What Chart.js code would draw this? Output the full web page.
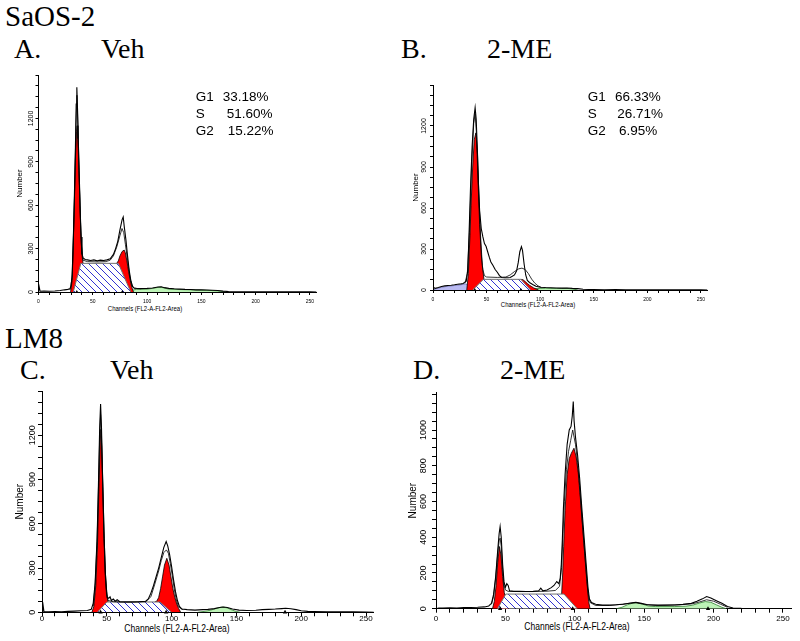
<!DOCTYPE html>
<html>
<head>
<meta charset="utf-8">
<script src="https://cdn.jsdelivr.net/npm/chart.js@4.4.0/dist/chart.umd.min.js"></script>
<style>
  body { margin: 0; background: #fff; width: 800px; height: 641px; position: relative; overflow: hidden; }
  .t { position: absolute; font-family: "Liberation Serif", "Times New Roman", serif; line-height: 1; white-space: nowrap; color: #000; }
  .s { position: absolute; font-family: "Liberation Sans", Arial, sans-serif; font-size: 13.5px; line-height: 1; white-space: nowrap; color: #000; }
  .ax { position: absolute; font-family: "Liberation Sans", Arial, sans-serif; line-height: 1; white-space: nowrap; color: #000; }
  canvas { position: absolute; }
</style>
</head>
<body>
<div class="t" style="left:5px; top:1.7px; font-size:29px">SaOS-2</div>
<div class="t" style="left:14px; top:35px; font-size:28px">A.</div>
<div class="t" style="left:101px; top:35px; font-size:28px">Veh</div>
<div class="t" style="left:401px; top:35px; font-size:28px">B.</div>
<div class="t" style="left:487px; top:35px; font-size:28px">2-ME</div>
<div class="t" style="left:5px; top:323.7px; font-size:29px">LM8</div>
<div class="t" style="left:20px; top:356px; font-size:28px">C.</div>
<div class="t" style="left:110px; top:356px; font-size:28px">Veh</div>
<div class="t" style="left:413px; top:356px; font-size:28px">D.</div>
<div class="t" style="left:500px; top:356px; font-size:28px">2-ME</div>

<div class="ax" style="left:145px; top:309px; font-size:6px; transform:translate(-50%,-50%) scaleY(1.2)">Channels (FL2-A-FL2-Area)</div>
<div class="ax" style="left:538px; top:305px; font-size:6px; transform:translate(-50%,-50%) scaleY(1.2)">Channels (FL2-A-FL2-Area)</div>
<div class="ax" style="left:177px; top:629px; font-size:8.5px; transform:translate(-50%,-50%) scaleY(1.25)">Channels (FL2-A-FL2-Area)</div>
<div class="ax" style="left:577px; top:627px; font-size:8.5px; transform:translate(-50%,-50%) scaleY(1.25)">Channels (FL2-A-FL2-Area)</div>

<canvas id="cA"></canvas>
<canvas id="cB"></canvas>
<canvas id="cC"></canvas>
<canvas id="cD"></canvas>

<script>
// cell cycle results printed on the top panels
const aPhase = ['G1', 'S', 'G2'];
const aPctA = ['33.18%', '51.60%', '15.22%'];
const aPctB = ['66.33%', '26.71%', '6.95%'];

// [channel, count] pairs
// A. SaOS-2 Veh
const aRaw = [[0,0],[0.5,40],[1.5,5],[5,6],[10,5],[15,7],[20,10],[24,15],[27,18],[29,22],[30,40],[31,120],[32,350],[33,650],[34,1000],[34.7,1300],[35.3,1415],[36,1250],[37,950],[38,680],[39,420],[40,270],[41,235],[43,225],[45,222],[48,218],[51,222],[54,215],[57,220],[60,218],[63,222],[66,230],[69,260],[71,300],[73,350],[75,430],[77,500],[78,519],[79,450],[80.5,360],[82,250],[83.5,150],[85,80],[86.7,37],[88,28],[90,26],[95,24],[100,25],[105,28],[110,35],[113,36],[116,30],[120,25],[125,22],[130,20],[135,18],[140,17],[145,15],[150,16],[155,14],[160,12],[165,10],[170,6],[175,3],[180,2],[190,1],[200,2],[210,1],[220,2],[230,1],[240,2],[250,1],[256,0]];
const aFit = [[29,15],[31,100],[33,600],[34.5,1150],[35.4,1360],[36.3,1150],[37.5,800],[38.5,520],[39.5,320],[41,220],[45,210],[55,208],[62,210],[66,220],[69,250],[72,310],[75,390],[76.9,439],[78.5,410],[80,330],[82,220],[84,110],[86,45],[88,26],[95,22]];
const aG1 = [[29.5,0],[31,80],[32,320],[33,620],[34,920],[35,1110],[35.6,1150],[36.3,1060],[37.2,850],[38.2,600],[39.2,380],[40,260],[41,200],[42,150],[44,0]];
const aS = [[32,0],[39,198],[73.5,198],[85,0]];
const aG2 = [[72,198],[73.5,215],[75,250],[77,280],[78.9,290],[80,270],[81.5,210],[83,140],[84.5,80],[86,30],[87.5,0]];
const aAgg = [[84,0],[86,12],[90,18],[95,18],[100,20],[105,25],[110,32],[113,33],[116,27],[120,20],[130,17],[140,15],[150,13],[160,10],[165,8],[172,0]];
const aMarks = [35.3, 77.2];

// B. SaOS-2 2-ME
const bRaw = [[0,0],[0.5,20],[2,12],[5,18],[8,25],[11,30],[14,33],[17,35],[20,38],[23,42],[26,45],[28,48],[29.5,55],[31,65],[32.5,150],[34,500],[35,750],[36.5,1050],[38,1250],[39.3,1334],[40.3,1250],[41.5,1000],[42.5,760],[43.5,580],[45,450],[46.5,390],[48,340],[49.5,320],[51,280],[52.5,240],[54,205],[56,180],[58,150],[60,130],[62,105],[64,92],[67,90],[70,90],[72,92],[74,100],[76,110],[78,140],[79.5,200],[81,280],[82.5,317],[83.5,290],[85,190],[86.5,110],[88,70],[90,55],[93,40],[96,28],[100,20],[105,18],[110,17],[115,15],[120,14],[125,15],[130,12],[135,10],[140,6],[145,4],[150,3],[160,2],[170,3],[180,2],[190,2],[200,1],[210,2],[220,1],[230,2],[240,1],[250,1],[256,0]];
const bFit = [[30,55],[32,120],[34,420],[36,900],[38,1220],[39.3,1290],[40.5,1150],[42,800],[43.5,480],[45,260],[46.5,150],[48,105],[50,95],[60,92],[68,95],[72,110],[76,135],[80,155],[83,160],[86,150],[89,120],[92,80],[95,50],[98,30],[101,20]];
const bG1 = [[31.5,0],[33,120],[34.5,400],[35.5,620],[37,900],[38.5,1100],[40,1150],[41.5,1000],[43,650],[44.5,380],[46,180],[47.5,80],[49,20],[50,0]];
const bS = [[37,0],[47,78],[82,78],[91,0]];
const bG2 = [[82,78],[84,75],[86,62],[88,48],[90,35],[92,25],[94,15],[96,8],[98.5,0]];
const bDebris = [[0.5,0],[2,8],[5,14],[8,20],[11,24],[14,28],[17,30],[20,33],[23,36],[26,38],[28,42],[30,45],[32,40],[34,20],[36,0]];
const bAgg = [[92,0],[95,10],[100,12],[105,13],[110,12],[115,12],[120,11],[125,12],[130,8],[135,0]];
const bMarks = [39, 82];

// C. LM8 Veh
const cRaw = [[0,0],[0.5,70],[1.5,5],[5,4],[10,5],[15,4],[20,6],[25,8],[30,10],[35,12],[38,20],[39.5,60],[41,200],[42.5,500],[43.5,850],[44.5,1250],[45.2,1411],[45.9,1250],[46.8,900],[47.8,550],[48.8,280],[49.8,150],[50.5,100],[51.5,95],[52.5,105],[53.5,80],[55,90],[56.5,75],[58,85],[60,72],[65,70],[70,70],[75,72],[80,75],[82,90],[84,130],[86,180],[88,240],[90,300],[92,370],[94,440],[95.8,480],[97,450],[98.5,390],[100,310],[101.5,220],[103,140],[104.5,80],[106,40],[108,22],[112,18],[118,15],[124,18],[128,20],[133,25],[137,33],[140,36],[143,32],[147,22],[152,15],[158,12],[165,14],[170,18],[175,20],[180,22],[185,25],[188,27],[192,24],[196,18],[200,10],[205,6],[210,5],[220,4],[230,3],[240,3],[250,2],[256,0]];
const cFit = [[39.5,40],[41,180],[42.5,480],[43.5,820],[44.5,1180],[45.2,1340],[45.9,1200],[46.8,850],[47.8,500],[48.8,250],[49.8,120],[51,80],[55,72],[60,70],[70,70],[80,72],[84,105],[87,190],[90,280],[92,350],[94,405],[96,423],[97.5,400],[99,330],[100.5,250],[102,160],[103.5,90],[105,45],[107,25],[109,18]];
const cG1 = [[38.5,0],[40,40],[41.5,180],[42.8,450],[43.8,800],[44.7,1100],[45.4,1240],[46.1,1120],[47,850],[48,500],[49,250],[50,110],[51,70],[52,40],[53,0]];
const cS = [[42.7,0],[50,70],[91,70],[100,0]];
const cG2 = [[87,70],[88.5,75],[90,100],[91.5,160],[93,240],[94.5,320],[96.3,366],[98,320],[99.5,240],[101,160],[102.5,100],[104,55],[105.5,25],[107,0]];
const cAgg = [[120,0],[125,6],[130,14],[135,28],[139,36],[143,30],[147,14],[150,5],[153,0]];
const cMarks = [45.2, 95.8, 187.5];

// D. LM8 2-ME
const dRaw = [[0,0],[2,3],[5,4],[10,5],[15,4],[20,6],[25,7],[30,8],[35,10],[38,15],[40,30],[41.5,80],[43,180],[44.5,330],[45.5,420],[46.2,460],[47,400],[48,250],[49,150],[50,120],[51,140],[52,130],[53,100],[56,97],[60,97],[65,96],[70,97],[74,100],[75.5,115],[77,100],[80,105],[83,118],[85,130],[87,152],[88.5,140],[89.5,170],[90.3,250],[91,380],[91.8,560],[93,750],[94.5,920],[96,1000],[97.3,1020],[98.2,1080],[98.9,1160],[99.5,1050],[100.5,960],[102,860],[103.5,730],[105,570],[106.5,420],[108,270],[109.5,120],[110.5,55],[112,35],[115,25],[120,20],[125,20],[130,22],[135,25],[140,32],[144,36],[148,30],[152,22],[158,20],[165,20],[172,21],[178,24],[184,30],[188,42],[192,55],[195,68],[198,60],[202,45],[206,30],[210,12],[214,4],[220,2],[230,1],[240,1],[250,1],[256,0]];
const dFit = [[40,25],[41.5,70],[43,170],[44.5,310],[45.5,380],[46.2,395],[47,350],[48,220],[49,130],[50,105],[52,97],[60,96],[70,96],[80,98],[86,102],[89,125],[90.5,230],[91.5,420],[92.5,600],[94,780],[95.5,880],[97,940],[98.5,1000],[99.5,960],[100.5,920],[102,820],[103.5,690],[105,530],[106.5,380],[108,230],[109.5,90],[111,35],[115,18],[125,18],[140,30],[144,33],[150,25],[160,18],[175,22],[185,28],[190,38],[195,50],[200,42],[205,25],[210,8]];
const dG1 = [[40.7,0],[42,40],[43.3,130],[44.5,260],[45.7,348],[46.8,300],[48,180],[49.2,90],[50.3,60],[51.5,20],[52.5,0]];
const dS = [[44.3,0],[50.3,82],[92.2,82],[101.8,0]];
const dG2 = [[90.5,82],[91.3,200],[92,350],[93,550],[94.5,750],[96,840],[97.5,870],[99.4,898],[101,850],[102.5,760],[104,620],[105.5,470],[107,320],[108.5,170],[110,40],[111,0]];
const dAgg = [[130,0],[134,8],[138,22],[142,32],[145,34],[149,25],[153,15],[158,12],[165,12],[172,12],[180,14],[185,20],[190,32],[194,40],[198,36],[202,22],[206,8],[209,0]];
const dMarks = [46.2, 98.5, 196];

const SANS = '"Liberation Sans", Arial, sans-serif';

function pts(arr) {
  return arr.map(p => ({ x: p[0], y: p[1] }));
}

function hatchPattern() {
  const c = document.createElement('canvas');
  c.width = 7; c.height = 7;
  const g = c.getContext('2d');
  g.fillStyle = '#fff';
  g.fillRect(0, 0, 7, 7);
  g.strokeStyle = '#3232d2';
  g.lineWidth = 1;
  g.beginPath();
  g.moveTo(-1, -1); g.lineTo(8, 8);
  g.moveTo(-1, 6); g.lineTo(1, 8);
  g.moveTo(6, -1); g.lineTo(8, 1);
  g.stroke();
  return g.createPattern(c, 'repeat');
}
const hatch = hatchPattern();

function panel(p) {
  const cv = document.getElementById(p.id);
  const left = Math.round(p.titleX - p.fs.t * 0.6);
  const top = Math.floor(p.area.t) - 4;
  const padTop = p.area.t - top;
  const yW = p.area.l - left;
  const W = Math.ceil(p.area.r - left) + 6;
  const padR = W - (p.area.r - left);
  const H = Math.ceil(p.area.b - top + p.xH);
  const xH = H - (p.area.b - top);
  cv.style.left = left + 'px';
  cv.style.top = top + 'px';
  cv.width = W;
  cv.height = H;

  const ds = [
    { data: pts(p.raw), borderColor: '#000', borderWidth: 1.1, fill: false, order: 0 },
    { data: pts(p.fit), borderColor: '#000', borderWidth: 0.8, fill: false, order: 1 },
    { data: pts(p.s), backgroundColor: hatch, borderColor: '#707070', borderWidth: 1, fill: 'origin', order: 3 },
    { data: pts(p.g1), backgroundColor: '#ff0000', borderColor: '#000', borderWidth: 0.8, fill: 'origin', order: 4 },
    { data: pts(p.g2), backgroundColor: '#ff0000', borderColor: '#000', borderWidth: 0.8, fill: 'origin', order: 4 },
    { data: pts(p.agg), backgroundColor: '#bdf3b7', borderColor: '#2f7f2f', borderWidth: 0.8, fill: 'origin', order: 5 },
    { data: p.marks.map(m => ({ x: m, y: 0 })), showLine: false, pointStyle: 'triangle',
      pointRadius: p.mark, backgroundColor: '#000', borderColor: '#000', borderWidth: 0, order: -1, clip: false }
  ];
  if (p.debris) {
    ds.push({ data: pts(p.debris), backgroundColor: '#babaf2', borderColor: '#6a6ab0', borderWidth: 0.8, fill: 'origin', order: 5 });
  }

  new Chart(cv, {
    type: 'line',
    data: { datasets: ds },
    options: {
      responsive: false,
      animation: false,
      events: [],
      layout: { padding: { left: 0, top: padTop, right: padR, bottom: 0 } },
      plugins: { legend: { display: false }, tooltip: { enabled: false } },
      elements: { point: { radius: 0 }, line: { tension: 0 } },
      scales: {
        x: {
          type: 'linear', min: 0, max: 256,
          afterBuildTicks: s => { s.ticks = s.ticks.filter(t => t.value % 10 === 0); },
          afterFit: s => { s.height = xH; s.paddingLeft = 0; s.paddingRight = 0; },
          ticks: {
            stepSize: 10, includeBounds: false, autoSkip: false, minRotation: 0, maxRotation: 0, padding: p.xPad,
            color: '#000', font: { family: SANS, size: p.fs.x },
            callback: v => (v % 50 === 0 ? String(v) : '')
          },
          grid: { drawOnChartArea: false, drawTicks: true, tickLength: p.tl, color: '#000', lineWidth: 1 },
          border: { color: '#000', width: 1 }
        },
        y: {
          min: 0, max: p.yMax,
          afterBuildTicks: s => { s.ticks = s.ticks.filter(t => t.value % p.yMinor === 0); },
          afterFit: s => { s.width = yW; s.paddingTop = 0; s.paddingBottom = 0; },
          ticks: {
            stepSize: p.yMinor, includeBounds: false, autoSkip: false, minRotation: 90, maxRotation: 90,
            crossAlign: 'center', padding: p.yPad,
            color: '#000', font: { family: SANS, size: p.fs.y },
            callback: v => (v % p.yLabel === 0 && v <= p.yLast ? String(v) : '')
          },
          title: { display: true, text: 'Number', color: '#000', padding: 0, font: { family: SANS, size: p.fs.t } },
          grid: { drawOnChartArea: false, drawTicks: true, tickLength: p.tl, color: '#000', lineWidth: 1 },
          border: { color: '#000', width: 1 }
        }
      }
    }
  });
}

panel({ id: 'cA', raw: aRaw, fit: aFit, g1: aG1, g2: aG2, s: aS, agg: aAgg, marks: aMarks,
  yMax: 1500, yMinor: 75, yLabel: 300, yLast: 1200,
  area: { l: 38.5, t: 75, r: 316.5, b: 292 }, titleX: 20, fs: { y: 7, x: 5, t: 8 },
  tl: 3, yPad: -3.5, xPad: 3.5, xH: 14, mark: 2 });

panel({ id: 'cB', raw: bRaw, fit: bFit, g1: bG1, g2: bG2, s: bS, agg: bAgg, debris: bDebris, marks: bMarks,
  yMax: 1500, yMinor: 75, yLabel: 300, yLast: 1200,
  area: { l: 433, t: 85, r: 707.4, b: 290 }, titleX: 416, fs: { y: 7, x: 5, t: 8 },
  tl: 3, yPad: -1.5, xPad: 3.3, xH: 14, mark: 2 });

panel({ id: 'cC', raw: cRaw, fit: cFit, g1: cG1, g2: cG2, s: cS, agg: cAgg, marks: cMarks,
  yMax: 1500, yMinor: 75, yLabel: 300, yLast: 1200,
  area: { l: 42, t: 391, r: 373.8, b: 612.3 }, titleX: 20, fs: { y: 9, x: 8, t: 10 },
  tl: 4, yPad: -5, xPad: -2.5, xH: 16, mark: 2.5 });

panel({ id: 'cD', raw: dRaw, fit: dFit, g1: dG1, g2: dG2, s: dS, agg: dAgg, marks: dMarks,
  yMax: 1210, yMinor: 50, yLabel: 200, yLast: 1000,
  area: { l: 436, t: 392.5, r: 791.3, b: 608.7 }, titleX: 413, fs: { y: 9, x: 8, t: 10 },
  tl: 4, yPad: -1.3, xPad: 1.5, xH: 16, mark: 2.5 });

// stats text blocks
function stats(labelX, valueX, pct) {
  const baselines = [101, 118, 135];
  aPhase.forEach((ph, i) => {
    const a = document.createElement('div');
    a.className = 's';
    a.style.left = labelX + 'px';
    a.style.top = (baselines[i] - 11.4) + 'px';
    a.textContent = ph;
    document.body.appendChild(a);
    const b = document.createElement('div');
    b.className = 's';
    b.style.left = valueX[i] + 'px';
    b.style.top = (baselines[i] - 11.4) + 'px';
    b.textContent = pct[i];
    document.body.appendChild(b);
  });
}
stats(195.7, [222.7, 226.7, 227.7], aPctA);
stats(587.7, [615, 617.3, 619], aPctB);
</script>
</body>
</html>
